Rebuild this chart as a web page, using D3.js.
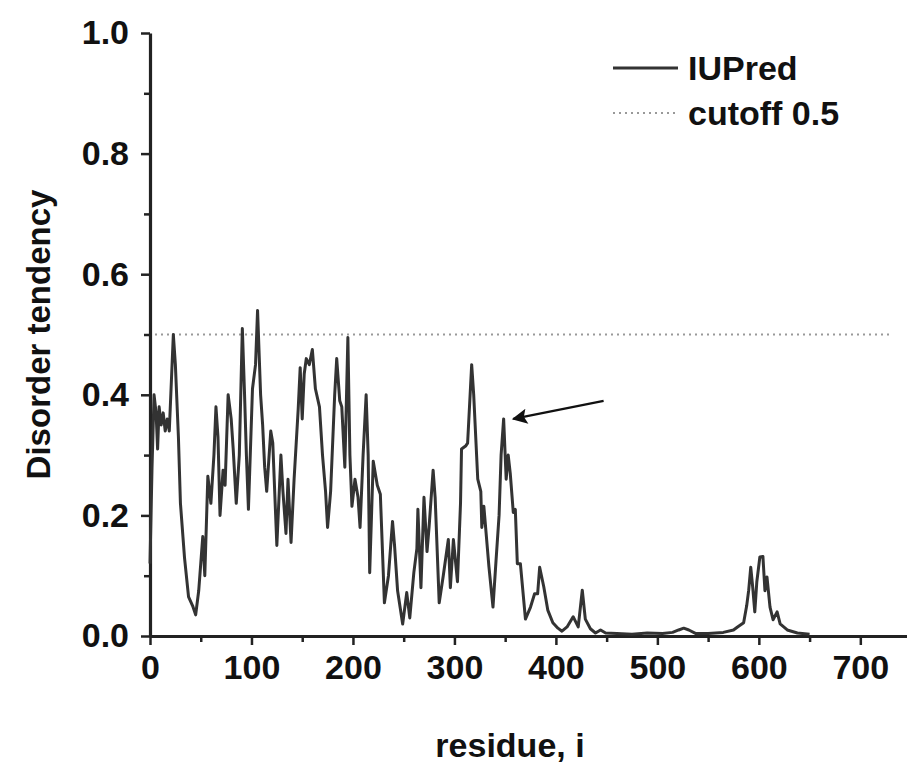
<!DOCTYPE html>
<html>
  <head>
    <style>
      body { margin: 0; background: #fff; }
      text { font-family: "Liberation Sans", Arial, sans-serif; font-weight: bold; fill: #111; }
      .axis path, .axis line { stroke: #222; fill: none; }
      .axis path { stroke-width: 3.2; }
      .axis line { stroke-width: 2.5; }
      .axis text { font-size: 34px; font-family: "Liberation Sans", Arial, sans-serif; font-weight: bold; fill: #111; }
    </style>
  </head>
  <body>
    <div id="chart"></div>
    <script src="https://d3js.org/d3.v7.min.js"></script>
    <script>
      // residue positions and IUPred scores
      const residues = [0, 2, 4, 6, 7.5, 9, 11, 13, 15, 17, 19, 21, 23, 25, 28, 30, 34, 38, 42, 45, 48, 52, 54, 57, 60, 63, 65, 67, 69, 72, 74, 77, 80, 82, 85, 88, 91, 93, 95, 97, 101, 104, 106, 109, 111, 113, 115, 119, 121, 125, 129, 131, 134, 136, 139, 142, 146, 148, 150, 152, 154, 157, 160, 163, 167, 170, 173, 175, 178, 182, 184, 187, 189, 192, 195, 197, 199, 202, 205, 207, 210, 213, 215, 216.5, 220, 224, 227, 231, 235, 239, 241, 244, 249, 253, 256, 260, 263, 264, 267, 270, 273, 275, 279, 281, 285, 289, 294, 296, 299, 303, 306, 307, 311, 313, 317, 319, 323, 326, 327, 329, 334, 338, 341, 344, 346, 348.5, 351, 353, 355, 358, 360, 362, 365, 370, 375, 379, 382, 384, 388, 392, 397, 402, 406, 411, 417, 422, 426, 429, 434, 439, 444, 449, 460, 475, 490, 505, 515, 521, 526, 531, 538, 550, 565, 575, 579, 585, 588, 590, 592, 594, 596, 598, 601, 604, 606, 608, 611, 614, 618, 621, 628, 638, 650];
      const scores = [0.12, 0.28, 0.40, 0.37, 0.31, 0.38, 0.35, 0.37, 0.34, 0.36, 0.34, 0.42, 0.50, 0.45, 0.33, 0.22, 0.13, 0.065, 0.05, 0.035, 0.075, 0.165, 0.10, 0.265, 0.22, 0.30, 0.38, 0.33, 0.20, 0.275, 0.25, 0.40, 0.36, 0.31, 0.22, 0.30, 0.51, 0.41, 0.30, 0.21, 0.41, 0.45, 0.54, 0.40, 0.35, 0.28, 0.24, 0.34, 0.32, 0.15, 0.30, 0.24, 0.17, 0.26, 0.155, 0.26, 0.375, 0.445, 0.36, 0.435, 0.46, 0.45, 0.475, 0.41, 0.38, 0.30, 0.24, 0.18, 0.24, 0.40, 0.46, 0.39, 0.38, 0.28, 0.495, 0.30, 0.215, 0.26, 0.23, 0.18, 0.30, 0.40, 0.30, 0.105, 0.29, 0.25, 0.235, 0.055, 0.10, 0.19, 0.15, 0.075, 0.02, 0.072, 0.03, 0.105, 0.145, 0.21, 0.08, 0.23, 0.14, 0.18, 0.275, 0.23, 0.055, 0.10, 0.16, 0.08, 0.16, 0.09, 0.22, 0.31, 0.315, 0.32, 0.45, 0.40, 0.26, 0.24, 0.18, 0.215, 0.115, 0.048, 0.125, 0.20, 0.30, 0.36, 0.26, 0.30, 0.27, 0.205, 0.21, 0.12, 0.12, 0.028, 0.048, 0.07, 0.07, 0.114, 0.082, 0.043, 0.022, 0.013, 0.008, 0.015, 0.032, 0.015, 0.076, 0.028, 0.012, 0.005, 0.01, 0.005, 0.004, 0.003, 0.005, 0.004, 0.006, 0.01, 0.013, 0.01, 0.004, 0.004, 0.006, 0.01, 0.015, 0.022, 0.05, 0.076, 0.114, 0.08, 0.04, 0.09, 0.131, 0.132, 0.075, 0.098, 0.048, 0.027, 0.04, 0.02, 0.01, 0.005, 0.003];

      const cutoff = 0.5;
      const cutoffSpan = [0, 730];
      const xTicks = [0, 100, 200, 300, 400, 500, 600, 700];
      const xMinor = [50, 150, 250, 350, 450, 550, 650];
      const yTicks = [0.0, 0.2, 0.4, 0.6, 0.8, 1.0];
      const yMinor = [0.1, 0.3, 0.5, 0.7, 0.9];
      const arrowTail = [447, 0.39];
      const arrowTip = [358, 0.36];

      const W = 907, H = 768;
      const svg = d3.select("#chart").append("svg").attr("width", W).attr("height", H);

      const x = d3.scaleLinear().domain([0, 746]).range([150, 907]);
      const y = d3.scaleLinear().domain([0, 1]).range([636, 33]);

      // minor ticks
      svg.append("g")
        .attr("class", "axis")
        .attr("transform", "translate(0,636)")
        .call(d3.axisBottom(x).tickValues(xMinor).tickSize(6).tickFormat(""))
        .select(".domain").remove();
      svg.append("g")
        .attr("class", "axis")
        .attr("transform", "translate(150,0)")
        .call(d3.axisLeft(y).tickValues(yMinor).tickSize(6).tickFormat(""))
        .select(".domain").remove();

      // major axes
      svg.append("g")
        .attr("class", "axis")
        .attr("transform", "translate(0,636)")
        .call(d3.axisBottom(x).tickValues(xTicks).tickSize(9).tickSizeOuter(0).tickPadding(10).tickFormat(d3.format("d")));
      svg.append("g")
        .attr("class", "axis")
        .attr("transform", "translate(150,0)")
        .call(d3.axisLeft(y).tickValues(yTicks).tickSize(9).tickSizeOuter(0).tickPadding(12).tickFormat(d3.format(".1f")));

      // cutoff line
      svg.append("line")
        .attr("x1", x(cutoffSpan[0]) + 5).attr("x2", x(cutoffSpan[1]))
        .attr("y1", y(cutoff)).attr("y2", y(cutoff))
        .attr("stroke", "#999").attr("stroke-width", 2).attr("stroke-dasharray", "2,4");

      // IUPred profile
      const pts = residues.map((r, i) => [r, scores[i]]);
      svg.append("path")
        .datum(pts)
        .attr("fill", "none")
        .attr("stroke", "#333")
        .attr("stroke-width", 3)
        .attr("stroke-linejoin", "round")
        .attr("d", d3.line().x((d) => x(d[0])).y((d) => y(d[1])));

      // arrow
      svg.append("defs").append("marker")
        .attr("id", "head")
        .attr("viewBox", "0 0 10 10")
        .attr("refX", 9).attr("refY", 5)
        .attr("markerWidth", 9).attr("markerHeight", 7)
        .attr("markerUnits", "strokeWidth")
        .attr("orient", "auto")
        .append("path").attr("d", "M0,0L10,5L0,10L2,5Z").attr("fill", "#111");
      svg.append("line")
        .attr("x1", x(arrowTail[0])).attr("y1", y(arrowTail[1]))
        .attr("x2", x(arrowTip[0])).attr("y2", y(arrowTip[1]))
        .attr("stroke", "#111").attr("stroke-width", 2.2)
        .attr("marker-end", "url(#head)");

      // legend
      const legend = svg.append("g");
      legend.append("line").attr("x1", 613).attr("x2", 678).attr("y1", 68).attr("y2", 68)
        .attr("stroke", "#333").attr("stroke-width", 3);
      legend.append("text").attr("x", 688).attr("y", 80).style("font-size", "34px").text("IUPred");
      legend.append("line").attr("x1", 613).attr("x2", 678).attr("y1", 113).attr("y2", 113)
        .attr("stroke", "#999").attr("stroke-width", 2).attr("stroke-dasharray", "2,4");
      legend.append("text").attr("x", 688).attr("y", 125).style("font-size", "34px").text("cutoff 0.5");

      // axis titles
      svg.append("text")
        .attr("transform", "translate(38," + (y(0.5)) + ") rotate(-90)")
        .attr("text-anchor", "middle")
        .attr("dominant-baseline", "central")
        .style("font-size", "33px")
        .text("Disorder tendency");
      svg.append("text")
        .attr("x", 510).attr("y", 757)
        .attr("text-anchor", "middle")
        .style("font-size", "34px")
        .text("residue, i");
    </script>
  </body>
</html>
